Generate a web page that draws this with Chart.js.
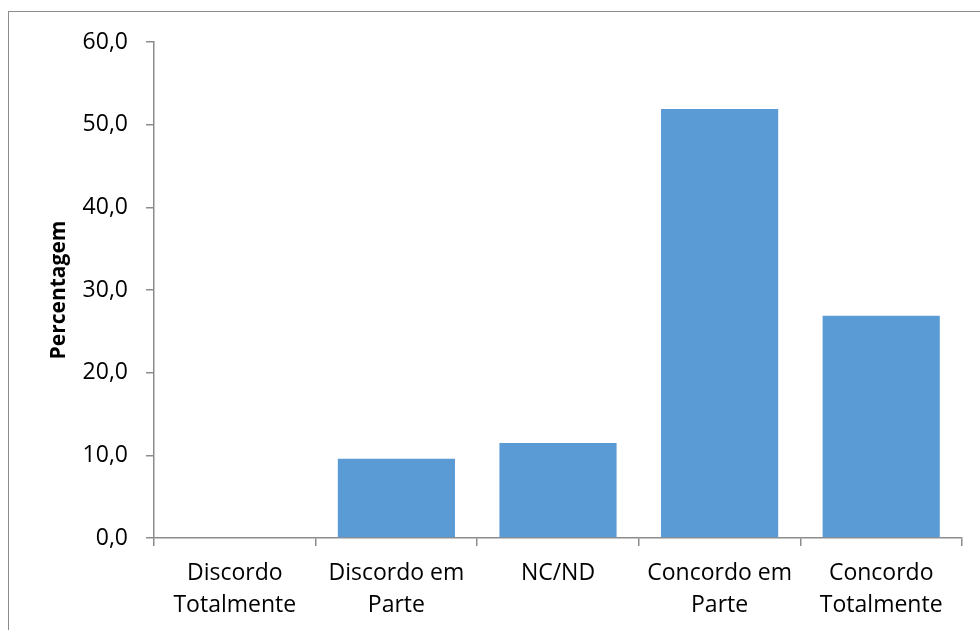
<!DOCTYPE html>
<html>
<head>
<meta charset="utf-8">
<script src="https://cdn.jsdelivr.net/npm/chart.js@4"></script>
<style>
  body { margin: 0; background: #fff; }
  #wrap { position: relative; width: 980px; height: 630px; overflow: hidden; }
  #frame { position: absolute; left: 8px; top: 11px; width: 1000px; height: 700px;
           border-left: 1.5px solid #8c8c8c; border-top: 1.5px solid #8c8c8c; }
  canvas { position: absolute; left: 0; top: 0; }
</style>
</head>
<body>
<div id="wrap">
  <div id="frame"></div>
  <canvas id="chart" width="980" height="630"></canvas>
</div>
<script>
// categorias (quebradas em linhas como no gráfico original)
const categories = [
  ["Discordo", "Totalmente"],
  ["Discordo em", "Parte"],
  ["NC/ND"],
  ["Concordo em", "Parte"],
  ["Concordo", "Totalmente"]
];
const percentages = [0, 9.6, 11.5, 51.9, 26.9];
const yTicks = [0, 10, 20, 30, 40, 50, 60];
const yTitle = "Percentagem";

const axisColor = "#8c8c8c";
const barColor = "#5b9bd5";

const ctx = document.getElementById("chart").getContext("2d");
new Chart(ctx, {
  type: "bar",
  data: {
    labels: categories,
    datasets: [{
      data: percentages,
      backgroundColor: barColor,
      borderWidth: 0,
      categoryPercentage: 1.0,
      barPercentage: 0.725
    }]
  },
  options: {
    responsive: false,
    animation: false,
    layout: { padding: { top: 42, right: 18, left: 0, bottom: 0 } },
    plugins: { legend: { display: false }, tooltip: { enabled: false } },
    scales: {
      x: {
        grid: { offset: true, drawOnChartArea: false, drawTicks: true, tickLength: 8, color: axisColor, lineWidth: 1.5 },
        border: { color: axisColor, width: 1.5 },
        ticks: {
          color: "#000",
          padding: 11,
          maxRotation: 0,
          autoSkip: false,
          font: { family: "Open Sans", size: 23, lineHeight: 1.4 }
        },
        afterFit: (scale) => { scale.height = 92; }
      },
      y: {
        min: 0,
        max: 60,
        afterBuildTicks: (scale) => { scale.ticks = yTicks.map(v => ({ value: v })); },
        grid: { drawOnChartArea: false, drawTicks: true, tickLength: 8, color: axisColor, lineWidth: 1.5 },
        border: { color: axisColor, width: 1.5 },
        ticks: {
          color: "#000",
          padding: 18,
          font: { family: "Open Sans", size: 23 },
          callback: (v) => Number(v).toFixed(1).replace(".", ",")
        },
        title: {
          display: true,
          text: yTitle,
          color: "#000",
          padding: { top: 46, bottom: 0 },
          font: { family: "Open Sans", size: 21, weight: "bold", lineHeight: 1.2 }
        },
        afterFit: (scale) => { scale.width = 154; }
      }
    }
  }
});
</script>
</body>
</html>
